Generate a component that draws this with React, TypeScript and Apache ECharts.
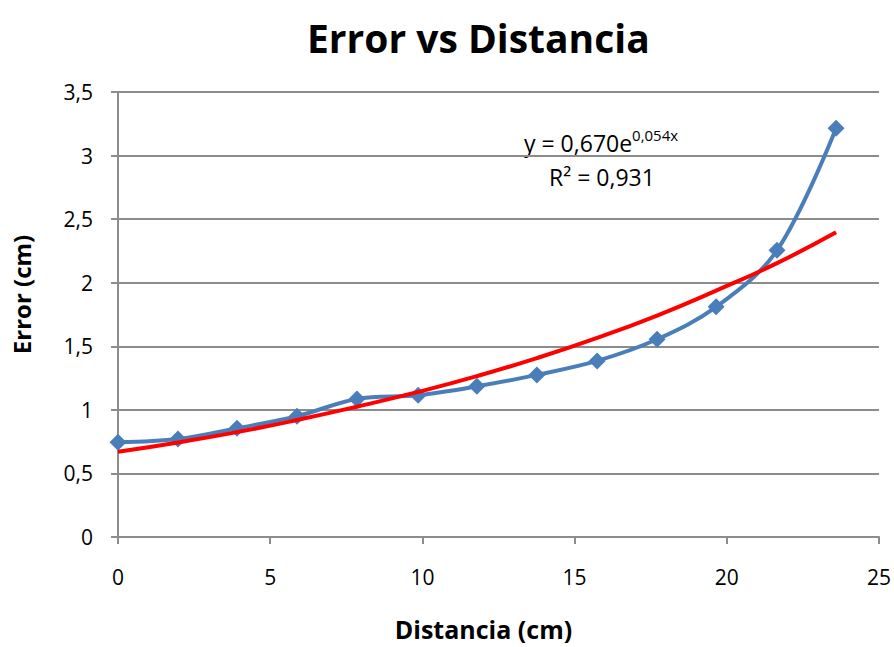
import React, { useEffect, useRef } from "react";
import * as echarts from "echarts";

const distancia = [0, 1.97, 3.91, 5.88, 7.85, 9.86, 11.79, 13.76, 15.74, 17.71, 19.65, 21.65, 23.59];
const errorCm = [0.745, 0.77, 0.855, 0.95, 1.085, 1.115, 1.185, 1.275, 1.385, 1.555, 1.81, 2.255, 3.215];
const trendValues = [0.67, 0.744, 0.825, 0.92, 1.025, 1.141, 1.265, 1.407, 1.566, 1.742, 1.938, 2.154, 2.396];
const xTicks = [0, 5, 10, 15, 20, 25];
const yTicks = ["0", "0,5", "1", "1,5", "2", "2,5", "3", "3,5"];

const FONT = "'Open Sans', Lato, sans-serif";

export default function App() {
  const ref = useRef<HTMLDivElement>(null);
  useEffect(() => {
    if (!ref.current) return;
    const chart = echarts.init(ref.current, null, { renderer: "svg" });
    chart.setOption({
      animation: false,
      backgroundColor: "#ffffff",
      title: {
        text: "Error vs Distancia",
        left: 302,
        top: 13,
        textStyle: { fontFamily: FONT, fontWeight: "bold", fontSize: 39, color: "#000" },
      },
      grid: { left: 118, right: 15, top: 92, bottom: 110 },
      xAxis: {
        type: "value",
        min: 0,
        max: 25,
        interval: 5,
        name: "Distancia (cm)",
        nameLocation: "middle",
        nameGap: 79,
        nameTextStyle: {
          fontFamily: FONT,
          fontWeight: "bold",
          fontSize: 25,
          color: "#000",
          padding: [0, 30, 0, 0],
        },
        axisLine: { show: true, lineStyle: { color: "#8c8c8c", width: 2 } },
        axisTick: { show: true, inside: false, length: 7, lineStyle: { color: "#8c8c8c", width: 2 } },
        splitLine: { show: false },
        axisLabel: {
          margin: 29,
          fontFamily: FONT,
          fontSize: 21,
          color: "#000",
          formatter: (v: number) => (xTicks.includes(v) ? String(v) : ""),
        },
      },
      yAxis: {
        type: "value",
        min: 0,
        max: 3.5,
        interval: 0.5,
        name: "Error (cm)",
        nameLocation: "middle",
        nameGap: 85,
        nameRotate: 90,
        nameTextStyle: {
          fontFamily: FONT,
          fontWeight: "bold",
          fontSize: 24,
          color: "#000",
          padding: [0, 0, 0, 40],
        },
        axisLine: { show: true, onZero: false, lineStyle: { color: "#8c8c8c", width: 2 } },
        axisTick: { show: true, inside: false, length: 7, lineStyle: { color: "#8c8c8c", width: 2 } },
        splitLine: { show: true, lineStyle: { color: "#8c8c8c", width: 2 } },
        axisLabel: {
          margin: 25,
          fontFamily: FONT,
          fontSize: 21,
          color: "#000",
          formatter: (v: number) => yTicks[Math.round(v / 0.5)] ?? "",
        },
      },
      series: [
        {
          name: "Error",
          type: "line",
          data: distancia.map((x, i) => [x, errorCm[i]]),
          smooth: 0.35,
          symbol: "diamond",
          symbolSize: 17,
          itemStyle: { color: "#4a7ebb" },
          lineStyle: { color: "#4a7ebb", width: 4 },
          z: 2,
        },
        {
          name: "Tendencia",
          type: "line",
          data: distancia.map((x, i) => [x, trendValues[i]]),
          smooth: 0.5,
          symbol: "none",
          lineStyle: { color: "#ff0000", width: 4 },
          z: 3,
        },
      ],
      graphic: [
        {
          type: "text",
          left: 524,
          top: 127,
          style: {
            text: "{b|y = 0,670e}{s|0,054x}",
            rich: {
              b: { fontFamily: FONT, fontSize: 23, color: "#000", verticalAlign: "bottom" },
              s: { fontFamily: FONT, fontSize: 15, color: "#000", verticalAlign: "top", padding: [0, 0, 12, 0] },
            },
          },
        },
        {
          type: "text",
          left: 549,
          top: 165,
          style: { text: "R² = 0,931", fontFamily: FONT, fontSize: 23, fill: "#000" },
        },
      ],
    });
    return () => chart.dispose();
  }, []);
  return (
    <div
      ref={ref}
      style={{ position: "absolute", left: 0, top: 0, width: 894, height: 647 }}
    />
  );
}
